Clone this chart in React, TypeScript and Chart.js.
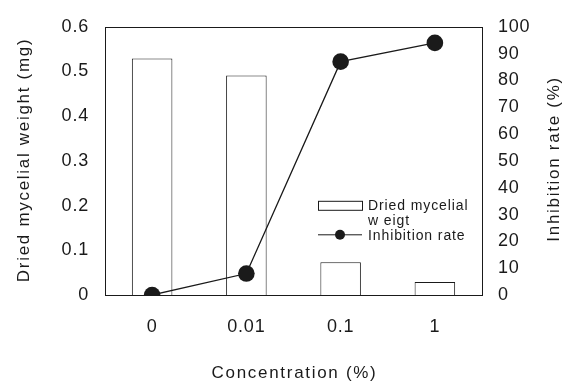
import React, { useEffect, useRef } from "react";
import { Chart, registerables } from "chart.js";

Chart.register(...registerables);

const categories = ["0", "0.01", "0.1", "1"];
const weightValues = [0.529, 0.491, 0.073, 0.029];
const inhibitionValues = [0, 8, 87, 94];
const leftTicks = [0, 0.1, 0.2, 0.3, 0.4, 0.5, 0.6];
const rightTicks = [0, 10, 20, 30, 40, 50, 60, 70, 80, 90, 100];
const legendLines = ["Dried mycelial", "w eigt", "Inhibition rate"];
const xTitle = "Concentration (%)";
const leftTitle = "Dried mycelial weight (mg)";
const rightTitle = "Inhibition rate (%)";

const FONT = "'Liberation Sans', Arial, Helvetica, sans-serif";
const INK = "#1a1a1a";

const boxAndLegend = {
  id: "boxAndLegend",
  beforeDraw(chart: any) {
    (chart.ctx as any).letterSpacing = "0.8px";
  },
  afterDatasetsDraw(chart: any) {
    const { ctx, chartArea } = chart;
    ctx.save();
    ctx.strokeStyle = INK;
    ctx.lineWidth = 1;
    ctx.strokeRect(
      Math.round(chartArea.left) + 0.5,
      Math.round(chartArea.top) + 0.5,
      Math.round(chartArea.right - chartArea.left),
      Math.round(chartArea.bottom - chartArea.top)
    );
    // legend
    const lx = chartArea.left + 213;
    const ly = chartArea.top + 174;
    ctx.fillStyle = "#fff";
    ctx.fillRect(lx, ly, 44, 9);
    ctx.strokeRect(lx + 0.5, ly + 0.5, 44, 9);
    ctx.beginPath();
    ctx.moveTo(lx, ly + 34);
    ctx.lineTo(lx + 44, ly + 34);
    ctx.lineWidth = 1;
    ctx.stroke();
    ctx.beginPath();
    ctx.arc(lx + 22, ly + 34, 5, 0, Math.PI * 2);
    ctx.fillStyle = INK;
    ctx.fill();
    (ctx as any).letterSpacing = "0.9px";
    ctx.font = "14px " + FONT;
    ctx.textBaseline = "alphabetic";
    ctx.textAlign = "left";
    ctx.fillText(legendLines[0], lx + 50, ly + 9);
    ctx.fillText(legendLines[1], lx + 50, ly + 24);
    ctx.fillText(legendLines[2], lx + 50, ly + 39);

    // axis titles
    (ctx as any).letterSpacing = "1.7px";
    ctx.font = "17px " + FONT;
    ctx.textAlign = "center";
    ctx.textBaseline = "alphabetic";
    const cx = (chartArea.left + chartArea.right) / 2;
    const cy = (chartArea.top + chartArea.bottom) / 2;
    ctx.fillText(xTitle, cx + 1, 378);
    ctx.save();
    ctx.translate(29, cy - 1);
    ctx.rotate(-Math.PI / 2);
    ctx.fillText(leftTitle, 0, 0);
    ctx.restore();
    ctx.save();
    ctx.translate(559, cy - 2);
    ctx.rotate(-Math.PI / 2);
    ctx.fillText(rightTitle, 0, 0);
    ctx.restore();
    ctx.restore();
  },
};

export default function App() {
  const ref = useRef<HTMLCanvasElement>(null);
  useEffect(() => {
    const chart = new Chart(ref.current as HTMLCanvasElement, {
      type: "bar",
      data: {
        labels: categories,
        datasets: [
          {
            type: "line",
            label: "Inhibition rate",
            data: inhibitionValues,
            yAxisID: "y1",
            borderColor: INK,
            backgroundColor: INK,
            borderWidth: 1.3,
            pointRadius: 8.3,
            pointBackgroundColor: INK,
            pointBorderWidth: 0,
            tension: 0,
            order: 0,
          } as any,
          {
            type: "bar",
            label: "Dried mycelial weigt",
            data: weightValues,
            yAxisID: "y",
            backgroundColor: "#fff",
            borderColor: INK,
            borderWidth: 1,
            barPercentage: 0.43,
            categoryPercentage: 1,
            order: 1,
          },
        ],
      },
      options: {
        responsive: false,
        animation: false,
        layout: { padding: { top: 24, left: 0, right: 0, bottom: 0 } },
        plugins: { legend: { display: false }, tooltip: { enabled: false } },
        scales: {
          x: {
            grid: { display: false, drawTicks: false },
            border: { display: false },
            ticks: { color: INK, font: { family: FONT, size: 18 }, padding: 21 },
            title: { display: false },
            afterFit: (s: any) => {
              s.height = 89;
            },
          },
          y: {
            position: "left",
            min: 0,
            max: 0.6,
            grid: { display: false, drawTicks: false },
            border: { display: false },
            afterBuildTicks: (s: any) => {
              s.ticks = leftTicks.map((v) => ({ value: v }));
            },
            ticks: {
              color: INK,
              font: { family: FONT, size: 18 },
              padding: 16,
              callback: (v: any) => (v === 0 ? "0" : Number(v).toFixed(1)),
            },
            title: { display: false },
            afterFit: (s: any) => {
              s.width = 105;
            },
          },
          y1: {
            position: "right",
            min: 0,
            max: 100,
            grid: { display: false, drawTicks: false },
            border: { display: false },
            afterBuildTicks: (s: any) => {
              s.ticks = rightTicks.map((v) => ({ value: v }));
            },
            ticks: {
              color: INK,
              font: { family: FONT, size: 18 },
              padding: 16,
            },
            title: { display: false },
            afterFit: (s: any) => {
              s.width = 87;
            },
          },
        },
      },
      plugins: [boxAndLegend],
    } as any);
    return () => chart.destroy();
  }, []);
  return (
    <div style={{ position: "fixed", left: 0, top: 0, width: 569, height: 384, background: "#fff" }}>
      <canvas ref={ref} width={569} height={384} style={{ width: 569, height: 384 }} />
    </div>
  );
}
